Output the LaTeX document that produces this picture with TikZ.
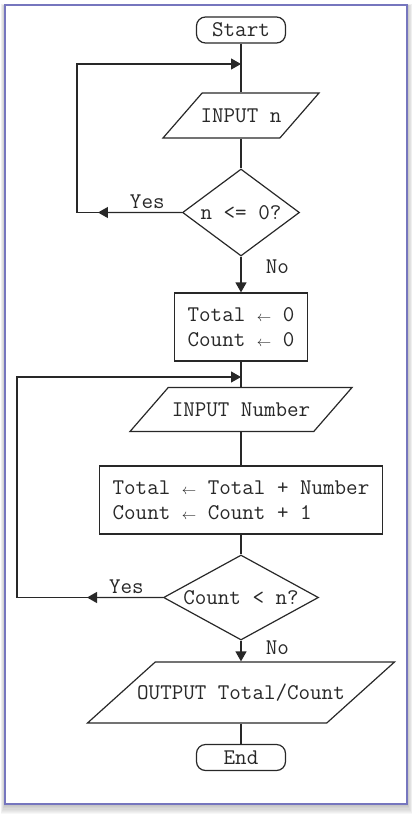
\documentclass[tikz,border=0pt]{standalone}
\usepackage{fontspec}
\usetikzlibrary{shapes.geometric,arrows.meta,calc}
\definecolor{framecol}{RGB}{118,118,190}
\definecolor{ink}{RGB}{40,40,40}
\newcommand{\assign}{{\fontsize{14}{14}\selectfont$\leftarrow$}}
\newcommand{\iostrut}{\rule[-6pt]{0pt}{25pt}}

\begin{document}
\begin{tikzpicture}[x=1pt,y=-1pt,
	every node/.style={font=\ttfamily\fontsize{22.4}{25}\selectfont,text=ink},
	box/.style={draw=ink,line width=1.2pt,inner sep=0pt},
	term/.style={box,rectangle,rounded corners=9pt,minimum width=89pt,minimum height=26pt},
	proc/.style={box,rectangle,minimum height=68pt,align=left},
	io/.style={box,trapezium,trapezium stretches body},
	dec/.style={box,diamond},
	line/.style={draw=ink,line width=1.2pt},
	arr/.style={line,-{Triangle[length=10pt,width=11pt]}}]
\useasboundingbox (0,0) rectangle (413,815);
\foreach \d in {0,...,9} \fill[black,opacity=0.03] (5-\d*0.5,6-\d*0.2) rectangle (407+\d*0.6,804+\d*1.1);
\draw [framecol,line width=1.5pt,fill=white] (5,5) rectangle (407,804);

\node [term]	(start)	at (241,30)	{Start};
\node [io,trapezium left angle=49,trapezium right angle=131,minimum width=156pt,inner ysep=10pt]	(in1)	at (241,115.5)	{\makebox[0pt]{\iostrut INPUT n}};
\node [dec,minimum width=117pt,minimum height=87pt]	(d1)	at (241,212.5)	{\makebox[0pt]{n <= 0?}};
\node [proc,minimum width=133pt]	(init)	at (241,327)	{Total \assign{} 0\\Count \assign{} 0};
\node [io,trapezium left angle=49,trapezium right angle=131,minimum width=222pt,inner ysep=9.5pt]	(in2)	at (241,409.5)	{\makebox[0pt]{\iostrut INPUT Number}};
\node [proc,minimum width=283pt]	(upd)	at (241,500)	{Total \assign{} Total + Number\\Count \assign{} Count + 1};
\node [dec,minimum width=155pt,minimum height=85pt]	(d2)	at (241,597.5)	{\makebox[0pt]{Count < n?}};
\node [io,trapezium left angle=42,trapezium right angle=138,minimum width=307pt,inner ysep=18pt]	(out)	at (241,692.5)	{\makebox[0pt]{\iostrut OUTPUT Total/Count}};
\node [term]	(end)	at (241,757.5)	{End};

\coordinate	(j1)	at (241,64);
\coordinate	(y1)	at (77,212.5);
\coordinate	(j2)	at (241,377);
\coordinate	(y2)	at (17,597.5);

\draw [line] (start)--(in1);
\draw [line] (in1)--(d1);
\draw [line] (d1.west)--(y1) node [pos=0.33,above]{Yes};
\draw [arr] (d1.west)--($(d1.west)!0.8!(y1)$);
\draw [arr] (y1) |- (j1);
\draw [arr] (d1)--(init) node [pos=0.27,anchor=west,xshift=21pt]{No};

\draw [line] (init)--(in2);
\draw [line] (in2)--(upd);
\draw [line] (upd)--(d2);
\draw [line] (d2.west)--(y2) node [pos=0.25,above]{Yes};
\draw [arr] (d2.west)--($(d2.west)!0.52!(y2)$);
\draw [arr] (y2) |- (j2);
\draw [arr] (d2)--(out) node [pos=0.32,anchor=west,xshift=21pt]{No};
\draw [line] (out)--(end);
\end{tikzpicture}
\end{document}
